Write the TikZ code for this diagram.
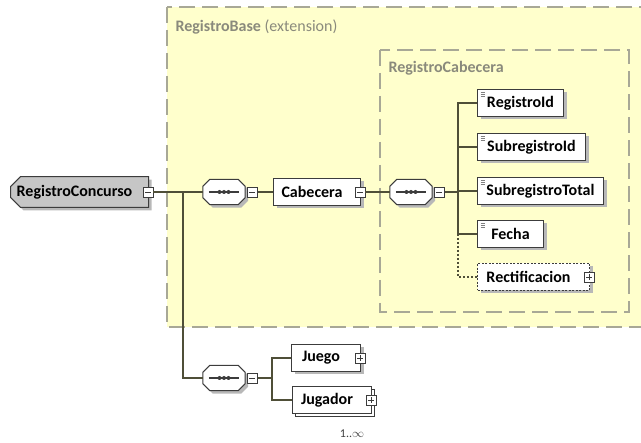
\documentclass[tikz,border=0pt]{standalone}
\usepackage{fontspec}
\setmainfont{Carlito}
\usetikzlibrary{positioning,shapes.misc,shadows}

\definecolor{baseyellow}{HTML}{FFFFCC}
\definecolor{basedash}{HTML}{A8A896}
\definecolor{labelgray}{HTML}{8A8A7C}
\definecolor{boxline}{HTML}{3C3C3C}
\definecolor{connline}{HTML}{4F4F38}
\definecolor{rootfill}{HTML}{C6C6C6}

\newcommand{\diagfont}{\fontsize{16}{19}\selectfont}

% outline of a sequence compositor, shifted by (#2,-#3)
\newcommand{\seqpath}[3]{([xshift=7pt+#2, yshift=-#3]#1.north west) -- ([xshift=-7pt+#2, yshift=-#3]#1.north east)
  -- ([xshift=#2, yshift=-7pt-#3]#1.north east) -- ([xshift=#2, yshift=7pt-#3]#1.south east)
  -- ([xshift=-7pt+#2, yshift=-#3]#1.south east) -- ([xshift=7pt+#2, yshift=-#3]#1.south west)
  -- ([xshift=#2, yshift=7pt-#3]#1.south west) -- ([xshift=#2, yshift=-7pt-#3]#1.north west) -- cycle}
\newcommand{\seqshape}[1]{%
  \fill[black!28] \seqpath{#1}{3pt}{3pt};
  \draw[boxline, fill=white, line width=1pt] \seqpath{#1}{0pt}{0pt};
  \draw[boxline, line width=1.2pt] ([xshift=6pt]#1.west) -- ([xshift=-6pt]#1.east);
  \foreach \d in {-4.5,0,4.5}
    \fill[boxline] ([xshift=\d pt]#1.center) circle (2pt);}

\tikzset{
  shade3/.style={drop shadow={shadow xshift=3pt, shadow yshift=-3pt, fill=black!28, opacity=1}},
  elem/.style={draw=boxline, fill=white, line width=1pt, minimum height=27pt,
    minimum width=#1, inner xsep=0pt, anchor=west, font=\diagfont\bfseries, shade3},
  iconpad/.style={execute at end node=\hspace{10pt}},
  root/.style={elem=#1, chamfered rectangle, chamfered rectangle corners={north west, south west},
    chamfered rectangle sep=5pt, fill=rootfill, minimum height=28pt},
  simple/.style={path picture={
    \foreach \dy in {3,4.8,6.6}
      \draw[gray, line width=0.6pt] ([shift={(3pt,-\dy pt)}]path picture bounding box.north west) -- ++(4pt,0pt);}},
  multi/.style={copy shadow={shadow xshift=3pt, shadow yshift=-3pt}},
  seq/.style={minimum width=42pt, minimum height=25pt, inner sep=0pt},
  minusbox/.style={draw=boxline, fill=white, line width=0.8pt, minimum size=10pt, inner sep=0pt,
    path picture={\draw[boxline, line width=0.8pt] ([xshift=2pt]path picture bounding box.west) -- ([xshift=-2pt]path picture bounding box.east);}},
  plusbox/.style={draw=boxline, fill=white, line width=0.8pt, minimum size=10pt, inner sep=0pt,
    path picture={\draw[boxline, line width=0.8pt] ([xshift=2pt]path picture bounding box.west) -- ([xshift=-2pt]path picture bounding box.east);
      \draw[boxline, line width=0.8pt] ([yshift=2pt]path picture bounding box.south) -- ([yshift=-2pt]path picture bounding box.north);}},
  conn/.style={draw=connline, line width=1.4pt},
  groupbox/.style={draw=basedash, line width=1.5pt, dash pattern=on 16pt off 7pt},
  grouplabel/.style={anchor=west, text=labelgray, font=\diagfont},
  mult/.style={font=\fontsize{12}{14}\selectfont, text=black!75, inner sep=1pt}
}

\begin{document}
\begin{tikzpicture}[x=1pt, y=-1pt]
    \useasboundingbox (0,0) rectangle (641,443);

    % Draw the extension boxes
    \fill[baseyellow] (167,7) rectangle (643,327);
    \draw[groupbox] (167,7) rectangle (643,327);
    \draw[groupbox] (380,50) rectangle (629,312);
    \node[grouplabel] (baseLabel) at (172,27) {\textbf{RegistroBase} (extension)};
    \node[grouplabel] (cabeceraLabel) at (385,68) {\textbf{RegistroCabecera}};

    % Root element and first sequence
    \node[root=138pt, iconpad] (concurso) at (10,192) {RegistroConcurso};
    \node[minusbox] (concursoIcon) at ([xshift=-1pt]concurso.east) {};
    \node[seq] (seqMain) at (224,192) {};
    \seqshape{seqMain}
    \node[minusbox] (seqMainIcon) at ([xshift=7pt]seqMain.east) {};
    \node[elem=87pt, iconpad] (cabecera) at (273,192) {Cabecera};
    \node[minusbox] (cabeceraIcon) at ([xshift=-1pt]cabecera.east) {};
    \node[seq] (seqCab) at (411,192) {};
    \seqshape{seqCab}
    \node[minusbox] (seqCabIcon) at ([xshift=7pt]seqCab.east) {};

    % Children of RegistroCabecera
    \node[elem=86pt, simple] (registroId) at (477,103) {RegistroId};
    \node[elem=108pt, simple] (subregistroId) at (477,147) {SubregistroId};
    \node[elem=126pt, simple] (subregistroTotal) at (477,191) {SubregistroTotal};
    \node[elem=66pt, simple] (fecha) at (477,234) {Fecha};
    \node[elem=112pt, iconpad, dash pattern=on 2pt off 1.5pt] (rectificacion) at (477,277) {Rectificacion};
    \node[plusbox] (rectificacionIcon) at ([xshift=-1pt]rectificacion.east) {};

    % Second sequence
    \node[seq] (seqBody) at (224,378) {};
    \seqshape{seqBody}
    \node[minusbox] (seqBodyIcon) at ([xshift=7pt]seqBody.east) {};
    \node[elem=69pt, iconpad] (juego) at (291,358) {Juego};
    \node[plusbox] (juegoIcon) at ([xshift=-1pt]juego.east) {};
    \node[elem=79pt, iconpad, multi] (jugador) at (292,400) {Jugador};
    \node[plusbox] (jugadorIcon) at ([xshift=-1pt]jugador.east) {};
    \node[mult, below=15pt of jugador, xshift=20pt] (jugadorMult) {1..$\infty$};

    % Connectors
    \coordinate (split) at (183,192);
    \coordinate (forkCab) at (458,192);
    \coordinate (forkBody) at (272,378);
    \draw[conn] (concursoIcon.east) -- (seqMain.west);
    \draw[conn] (split) |- (seqBody.west);
    \draw[conn] (seqMainIcon.east) -- (cabecera.west);
    \draw[conn] (cabeceraIcon.east) -- (seqCab.west);
    \draw[conn] (seqCabIcon.east) -- (forkCab);
    \draw[conn] (forkCab) |- (registroId.west);
    \draw[conn] (forkCab) |- (subregistroId.west);
    \draw[conn] (forkCab) |- (subregistroTotal.west);
    \draw[conn] (forkCab) |- (fecha.west);
    \draw[conn, dash pattern=on 2pt off 2pt] (forkCab |- fecha.west) |- (rectificacion.west);
    \draw[conn] (seqBodyIcon.east) -- (forkBody);
    \draw[conn] (forkBody) |- (juego.west);
    \draw[conn] (forkBody) |- (jugador.west);
\end{tikzpicture}
\end{document}
